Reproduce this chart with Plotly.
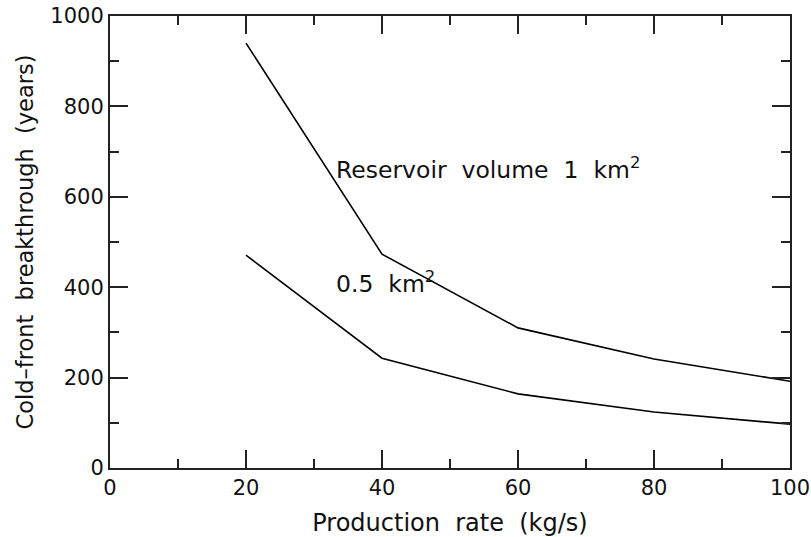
import plotly.graph_objects as go

production_rate = [20, 40, 60, 80, 100]
breakthrough_1km2 = [940, 473, 310, 241, 192]
breakthrough_05km2 = [471, 243, 164, 124, 97]
x_ticks = [0, 20, 40, 60, 80, 100]
y_ticks = [0, 200, 400, 600, 800, 1000]

font_family = "DejaVu Sans"

fig = go.Figure()
fig.add_trace(go.Scatter(x=production_rate, y=breakthrough_1km2, mode="lines",
                         line=dict(color="black", width=1.6), showlegend=False))
fig.add_trace(go.Scatter(x=production_rate, y=breakthrough_05km2, mode="lines",
                         line=dict(color="black", width=1.6), showlegend=False))

axis_common = dict(
    showgrid=False, zeroline=False, showline=True, linecolor="#222", linewidth=2,
    mirror="ticks", ticks="inside", ticklen=18, tickwidth=1.6, tickcolor="#222",
    tickfont=dict(family=font_family, size=21, color="#111"), automargin=False,
)

fig.update_xaxes(range=[0, 100], tickvals=x_ticks, ticktext=[str(v) for v in x_ticks],
                 minor=dict(dtick=10, ticks="inside", ticklen=9, tickwidth=1.6, tickcolor="#222"),
                 title=dict(text="Production  rate  (kg/s)", font=dict(family=font_family, size=24, color="#111"),
                            standoff=15),
                 **axis_common)
fig.update_yaxes(range=[0, 1000], tickvals=y_ticks, ticktext=[str(v) for v in y_ticks],
                 minor=dict(dtick=100, ticks="inside", ticklen=9, tickwidth=1.6, tickcolor="#222"),
                 title=dict(text="Cold\u2013front  breakthrough  (years)", font=dict(family=font_family, size=22.5, color="#111"),
                            standoff=10),
                 **axis_common)

fig.add_annotation(x=33, y=662, text="Reservoir  volume  1  km<sup>2</sup>", showarrow=False,
                   xanchor="left", yanchor="middle", font=dict(family=font_family, size=23.5, color="#111"))
fig.add_annotation(x=33, y=410, text="0.5  km<sup>2</sup>", showarrow=False,
                   xanchor="left", yanchor="middle", font=dict(family=font_family, size=23.5, color="#111"))

fig.update_layout(width=811, height=537, margin=dict(l=110, r=21, t=16, b=69),
                  plot_bgcolor="white", paper_bgcolor="white")

fig.write_html("out.html", config={"displayModeBar": False},
               post_script="document.body.style.margin='0';document.body.style.overflow='hidden';")
